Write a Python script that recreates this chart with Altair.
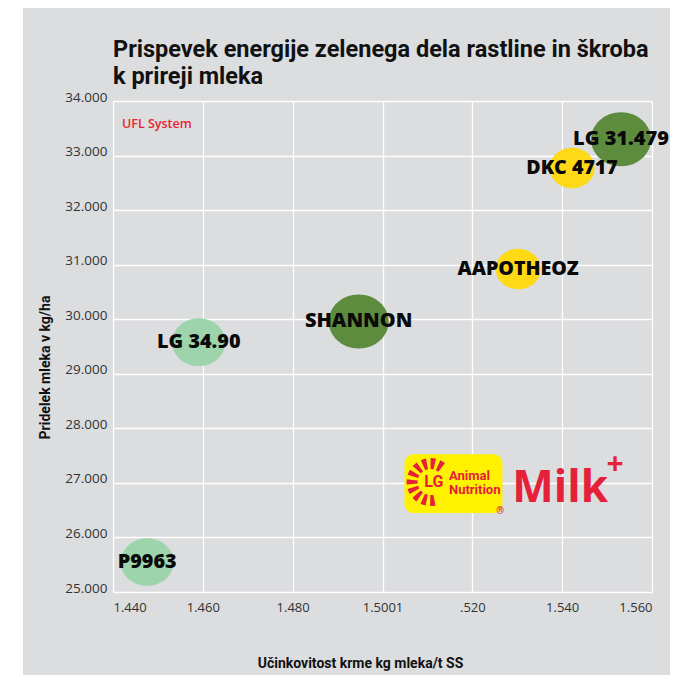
import json
import altair as alt
import pandas as pd

# ---------------- data ----------------
varieties = ["LG 31.479", "DKC 4717", "AAPOTHEOZ", "SHANNON", "LG 34.90", "P9963"]
efficiency = [1.5531, 1.5422, 1.5302, 1.4947, 1.4591, 1.4476]      # kg mleka / t SS
milk_yield = [33300, 32770, 30920, 29960, 29580, 25550]             # kg/ha
group = ["large", "small", "small", "large", "medium", "medium"]

groups = ["large", "medium", "small"]
group_colors = ["#5e8c3f", "#9dd4ab", "#fdd916"]

x_ticks = [1.44, 1.46, 1.48, 1.50, 1.52, 1.54, 1.56]
x_tick_labels = ["1.440", "1.460", "1.480", "1.5001", ".520", "1.540", "1.560"]
y_ticks = [25000, 26000, 27000, 28000, 29000, 30000, 31000, 32000, 33000, 34000]

title_lines = ["Prispevek energije zelenega dela rastline in škroba", "k prireji mleka"]
x_title = "Učinkovitost krme kg mleka/t SS"
y_title = "Pridelek mleka v kg/ha"
note_text = "UFL System"

# logo (annotation placed in data space)
logo_box_x = [1.5049, 1.5267]
logo_box_y = [26447, 27527]
logo_center = [1.5107, 27015]
ray_starts_deg = [168, 192, 216, 240, 264, 288, 312, 336, 360, 384]
logo_words = ["LG", "Animal", "Nutrition", "®"]
logo_word_x = [1.5093, 1.5148, 1.5148, 1.5253]
logo_word_y = [27015, 27135, 26862, 26490]
logo_word_kind = ["lg", "sub", "sub", "reg"]

RED = "#e5213a"
BG = "#dcdddf"
TITLE_FONT = "Roboto, sans-serif"
LABEL_FONT = "'Open Sans', sans-serif"

df = pd.DataFrame({"name": varieties, "x": efficiency, "y": milk_yield, "group": group})

xscale = alt.Scale(domain=[x_ticks[0], x_ticks[-1]], nice=False, zero=False)
yscale = alt.Scale(domain=[y_ticks[0], y_ticks[-1]], nice=False, zero=False)

label_expr = json.dumps(x_tick_labels) + "[round((datum.value - 1.44) / 0.02)]"

X = alt.X("x:Q", scale=xscale, title=x_title,
          axis=alt.Axis(values=x_ticks, labelExpr=label_expr, grid=True, domain=False, ticks=False,
                        labelPadding=9, labelFontSize=13, labelFont=LABEL_FONT, labelColor="#333333",
                        titleFont=TITLE_FONT, titleFontSize=14, titleFontWeight="bold", titleColor="#111111",
                        titleX=247, titleY=71, titleBaseline="middle", titleAlign="center"))
Y = alt.Y("y:Q", scale=yscale, title=y_title,
          axis=alt.Axis(values=y_ticks, labelExpr="replace(format(datum.value, ',.0f'), ',', '.')",
                        grid=True, domain=False, ticks=False, labelPadding=6, labelFontSize=13.5,
                        labelFont=LABEL_FONT, labelColor="#333333", labelBaseline="alphabetic",
                        titleFont=TITLE_FONT, titleFontSize=14, titleFontWeight="bold", titleColor="#111111",
                        titleX=-68, titleY=266, titleBaseline="middle", titleAngle=-90))

ellipse = "M-1,0A1,0.9,0,1,1,1,0A1,0.9,0,1,1,-1,0Z"

strip = alt.Chart(pd.DataFrame({"k": [0]})).mark_rect(color="white").encode(
    x=alt.value(-105), x2=alt.value(-90), y=alt.value(-93), y2=alt.value(574))

title_marks = [
    alt.Chart(pd.DataFrame({"t": [line]})).mark_text(
        font=TITLE_FONT, fontWeight="bold", fontSize=23.5, color="#111111",
        align="left", baseline="alphabetic"
    ).encode(x=alt.value(0), y=alt.value(ypix), text="t:N")
    for line, ypix in zip(title_lines, [-44, -17])
]

bubbles = alt.Chart(df).mark_point(shape=ellipse, filled=True, opacity=1, strokeWidth=0).encode(
    x=X, y=Y,
    color=alt.Color("group:N", scale=alt.Scale(domain=groups, range=group_colors), legend=None),
    size=alt.Size("group:N", scale=alt.Scale(domain=groups, range=[3600, 2025, 1089]), legend=None),
)

labels = alt.Chart(df).mark_text(font=LABEL_FONT, fontWeight=800, color="#0a0a0a",
                                 baseline="middle", align="center").encode(
    x=X, y=Y, text="name:N",
    size=alt.Size("group:N", scale=alt.Scale(domain=groups, range=[20, 19.6, 14]), legend=None),
)

note = alt.Chart(pd.DataFrame({"x": [1.442], "y": [33571], "t": [note_text]})).mark_text(
    font=LABEL_FONT, fontWeight=600, fontSize=12.5, color="#e8242e", align="left", baseline="middle"
).encode(x=X, y=Y, text="t:N")

box = alt.Chart(pd.DataFrame({"x": [logo_box_x[0]], "x2": [logo_box_x[1]],
                              "y": [logo_box_y[0]], "y2": [logo_box_y[1]]})).mark_rect(
    color="#fff200", cornerRadius=9).encode(x=X, x2="x2:Q", y=Y, y2="y2:Q")

rays_df = pd.DataFrame({
    "x": [logo_center[0]] * len(ray_starts_deg),
    "y": [logo_center[1]] * len(ray_starts_deg),
    "t": [d * 3.14159265 / 180 for d in ray_starts_deg],
    "t2": [(d + 13) * 3.14159265 / 180 for d in ray_starts_deg],
})
rays = alt.Chart(rays_df).mark_arc(radius=24, radius2=13, color=RED).encode(
    x=X, y=Y,
    theta=alt.Theta("t:Q", scale=None, stack=None),
    theta2="t2:Q",
)

logo_texts = pd.DataFrame({"x": logo_word_x, "y": logo_word_y, "t": logo_words, "s": logo_word_kind})
logo_text = alt.Chart(logo_texts).mark_text(font=TITLE_FONT, fontWeight="bold", color=RED,
                                            baseline="middle", align="left").encode(
    x=X, y=Y, text="t:N",
    size=alt.Size("s:N", scale=alt.Scale(domain=["lg", "sub", "reg"], range=[16, 10, 6]), legend=None),
)

milk = alt.Chart(pd.DataFrame({"x": [1.5289], "y": [26648], "t": ["Milk"]})).mark_text(
    font=LABEL_FONT, fontWeight="bold", fontSize=44, color=RED, align="left", baseline="alphabetic"
).encode(x=X, y=Y, text="t:N")
plus = alt.Chart(pd.DataFrame({"x": [1.5518], "y": [27326], "t": ["+"]})).mark_text(
    font=LABEL_FONT, fontWeight="bold", fontSize=30, color=RED, align="center", baseline="middle"
).encode(x=X, y=Y, text="t:N")

chart = alt.layer(strip, *title_marks, bubbles, labels, note, box, rays, logo_text, milk, plus).resolve_scale(
    size="independent"
).properties(
    width=539, height=491,
    autosize=alt.AutoSizeParams(type="none"),
    padding={"left": 105, "top": 93, "right": 18, "bottom": 83},
    background=BG,
).configure_view(strokeWidth=0, fill=BG).configure_axis(gridColor="white", gridWidth=1.3)

chart.save("out.html", embed_options={"renderer": "svg", "actions": False})
